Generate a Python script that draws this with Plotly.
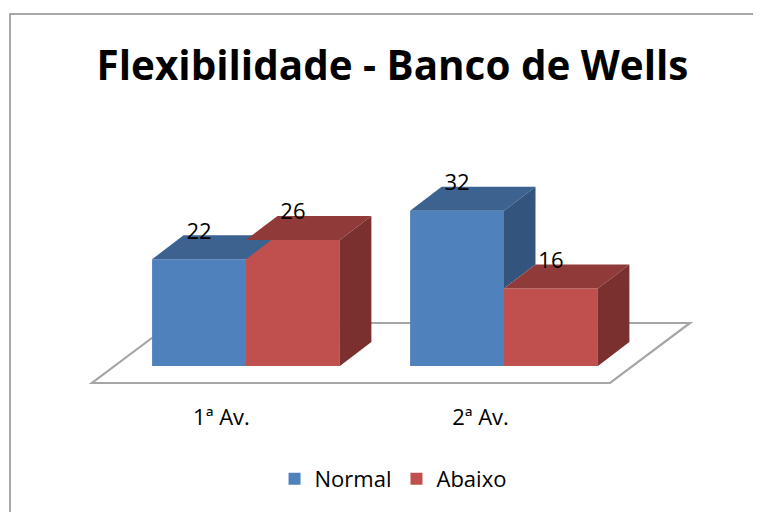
import plotly.graph_objects as go

categories = ["1ª Av.", "2ª Av."]
series_names = ["Normal", "Abaixo"]
normal = [22, 32]
abaixo = [26, 16]
title_text = "Flexibilidade - Banco de Wells"

front_colors = ["#4F81BD", "#C0504D"]
top_colors = ["#3C628F", "#903B39"]
side_colors = ["#32547D", "#7A302E"]

FONT = "Open Sans"
BAR_W = 0.364
DX = 0.122
DY = 4.95
LABEL_DY = 5.4
FLOOR_LEFT, FLOOR_RIGHT = -0.597, 1.411
FLOOR_FRONT = -3.5
FLOOR_DX, FLOOR_DY = 0.31, 12.37

values = [normal, abaixo]
n_s = len(values)

fig = go.Figure()

# front faces
for s in range(n_s):
    xs = [i + (s - (n_s - 1) / 2) * BAR_W for i in range(len(categories))]
    fig.add_trace(go.Bar(
        x=xs, y=values[s], width=BAR_W, base=0, name=series_names[s],
        marker=dict(color=front_colors[s], line=dict(width=0)),
        hoverinfo="skip",
    ))

# top and side faces (painter's order)
for i in range(len(categories)):
    for s in range(n_s):
        v = values[s][i]
        xc = i + (s - (n_s - 1) / 2) * BAR_W
        xl, xr = xc - BAR_W / 2, xc + BAR_W / 2
        fig.add_trace(go.Scatter(
            x=[xl, xl + DX, xr + DX, xr, xl],
            y=[v, v + DY, v + DY, v, v],
            fill="toself", fillcolor=top_colors[s], mode="lines",
            line=dict(width=0, color=top_colors[s]),
            showlegend=False, hoverinfo="skip",
        ))
        low = values[s + 1][i] if s + 1 < n_s else 0
        if v > low:
            fig.add_trace(go.Scatter(
                x=[xr, xr + DX, xr + DX, xr, xr],
                y=[v, v + DY, low + DY, low, v],
                fill="toself", fillcolor=side_colors[s], mode="lines",
                line=dict(width=0, color=side_colors[s]),
                showlegend=False, hoverinfo="skip",
            ))

# value labels
for s in range(n_s):
    xs = [i + (s - (n_s - 1) / 2) * BAR_W for i in range(len(categories))]
    fig.add_trace(go.Scatter(
        x=xs, y=[v + LABEL_DY for v in values[s]], mode="text",
        text=[str(v) for v in values[s]], textposition="middle center",
        textfont=dict(family=FONT, size=22, color="#000000"),
        showlegend=False, hoverinfo="skip",
    ))

floor_path = (
    f"M {FLOOR_LEFT},{FLOOR_FRONT} L {FLOOR_RIGHT},{FLOOR_FRONT} "
    f"L {FLOOR_RIGHT + FLOOR_DX},{FLOOR_FRONT + FLOOR_DY} "
    f"L {FLOOR_LEFT + FLOOR_DX},{FLOOR_FRONT + FLOOR_DY} Z"
)

n_c = len(categories)
tickvals = [FLOOR_LEFT + (i + 0.5) * (FLOOR_RIGHT - FLOOR_LEFT) / n_c for i in range(n_c)]

fig.update_layout(
    width=761, height=512,
    margin=dict(l=6, r=33, t=52, b=118),
    paper_bgcolor="white", plot_bgcolor="white",
    font=dict(family=FONT, size=22, color="#000000"),
    title=dict(text=f"<b>{title_text}</b>", x=0.5053, y=0.887, xanchor="center", yanchor="middle",
               font=dict(family=FONT, size=40.4, color="#000000")),
    barmode="overlay",
    showlegend=True,
    legend=dict(orientation="h", x=0.525, xanchor="center", y=-0.225, yanchor="middle",
                font=dict(family=FONT, size=22), itemwidth=30, traceorder="normal"),
    xaxis=dict(range=[-0.8992, 1.8992], tickvals=tickvals, ticktext=categories,
               showgrid=False, zeroline=False, showline=False, ticks="",
               tickfont=dict(family=FONT, size=22), fixedrange=True),
    yaxis=dict(range=[(366 - 402) / 4.85, (366 - 60) / 4.85], visible=False,
               showgrid=False, zeroline=False, fixedrange=True),
    shapes=[
        dict(type="path", path=floor_path, xref="x", yref="y", layer="below",
             fillcolor="white", line=dict(color="#A6A6A6", width=2.2)),
        dict(type="rect", xref="paper", yref="paper", x0=-0.0055, x1=1.2, y0=-0.6,
             y1=(402 - 14) / 342, line=dict(color="#8C8C8C", width=1.5), layer="below"),
    ],
)

fig.write_html("out.html")
